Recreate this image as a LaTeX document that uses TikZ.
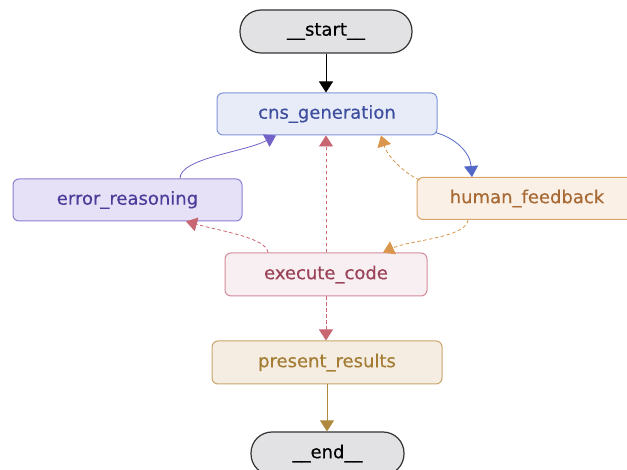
\documentclass[tikz,border=0pt]{standalone}
\usepackage{fontspec}
\setmainfont[FakeBold=0.4]{DejaVu Sans}
\usetikzlibrary{arrows.meta,calc}
\definecolor{termfill}{HTML}{E2E2E4}
\definecolor{termdraw}{HTML}{333333}
\definecolor{cnsfill}{HTML}{E7ECF8}
\definecolor{cnsdraw}{HTML}{8094D8}
\definecolor{cnstext}{HTML}{3E4E9E}
\definecolor{erfill}{HTML}{E6E1F7}
\definecolor{erdraw}{HTML}{8C80D2}
\definecolor{ertext}{HTML}{4B3D99}
\definecolor{hffill}{HTML}{FAF0E6}
\definecolor{hfdraw}{HTML}{DAA56C}
\definecolor{hftext}{HTML}{A86A35}
\definecolor{exfill}{HTML}{F8EFF2}
\definecolor{exdraw}{HTML}{D28C9A}
\definecolor{extext}{HTML}{9A4258}
\definecolor{prfill}{HTML}{F5EDE1}
\definecolor{prdraw}{HTML}{C9A56C}
\definecolor{prtext}{HTML}{A57C34}
\definecolor{ablue}{HTML}{5468C8}
\definecolor{aorange}{HTML}{D9964C}
\definecolor{ared}{HTML}{C86672}
\definecolor{apurple}{HTML}{7262C8}
\definecolor{abrown}{HTML}{B08A3C}
\begin{document}
\begin{tikzpicture}[x=1pt,y=-1pt,
  every node/.style={font=\fontsize{18}{20}\selectfont, inner sep=0pt},
  box/.style={draw, line width=1pt, rounded corners=6pt, minimum height=42pt},
  term/.style={box, fill=termfill, draw=termdraw, text=black, line width=1.2pt, rounded corners=21pt, minimum height=43pt},
  tip/.style={-{Triangle[width=14pt,length=11pt]}},
  edge/.style={tip, line width=0.8pt},
  dashedge/.style={edge, dash pattern=on 3.5pt off 2.5pt},
]
\useasboundingbox (0,0) rectangle (627,470);
\node[term, minimum width=172pt] (start) at (326,31.5) {\_\_start\_\_};
\node[box, fill=cnsfill, draw=cnsdraw, text=cnstext, minimum width=220pt] (cns) at (327,114) {cns\_generation};
\node[box, fill=erfill, draw=erdraw, text=ertext, minimum width=229pt] (er) at (127.5,200) {error\_reasoning};
\node[box, fill=hffill, draw=hfdraw, text=hftext, minimum width=220pt] (hf) at (527,198.5) {human\_feedback};
\node[box, fill=exfill, draw=exdraw, text=extext, minimum width=202pt, minimum height=43pt] (ex) at (326,274.5) {execute\_code};
\node[box, fill=prfill, draw=prdraw, text=prtext, minimum width=230pt, minimum height=43pt] (pr) at (327,362.5) {present\_results};
\node[term, minimum width=153pt] (end) at (327.5,453.5) {\_\_end\_\_};

\draw[edge, black] (start) -- (cns.north -| start);
\draw[edge, ablue] ($(cns.south east)+(-2,-3)$) .. controls (455,138) and (470,152) .. (hf.north -| 472,0);
\draw[dashedge, aorange] ($(hf.north west)+(3,3)$) .. controls (402,172) and (387,155) .. (cns.south -| 381,0);
\draw[dashedge, aorange] (hf.south -| 468,0) .. controls (466,238) and (410,240) .. (ex.north -| 383,0);
\draw[dashedge, ared] (ex.north) -- (cns.south -| ex.north);
\draw[dashedge, ared] (ex.north -| 268,0) .. controls (266,238) and (225,232) .. (er.south -| 186,0);
\draw[edge, apurple] (er.north -| 180,0) .. controls (180,158) and (245,152) .. (cns.south -| 276,0);
\draw[dashedge, ared] (ex) -- (pr.north -| ex);
\draw[edge, abrown] (pr) -- (end.north -| pr);
\end{tikzpicture}
\end{document}
